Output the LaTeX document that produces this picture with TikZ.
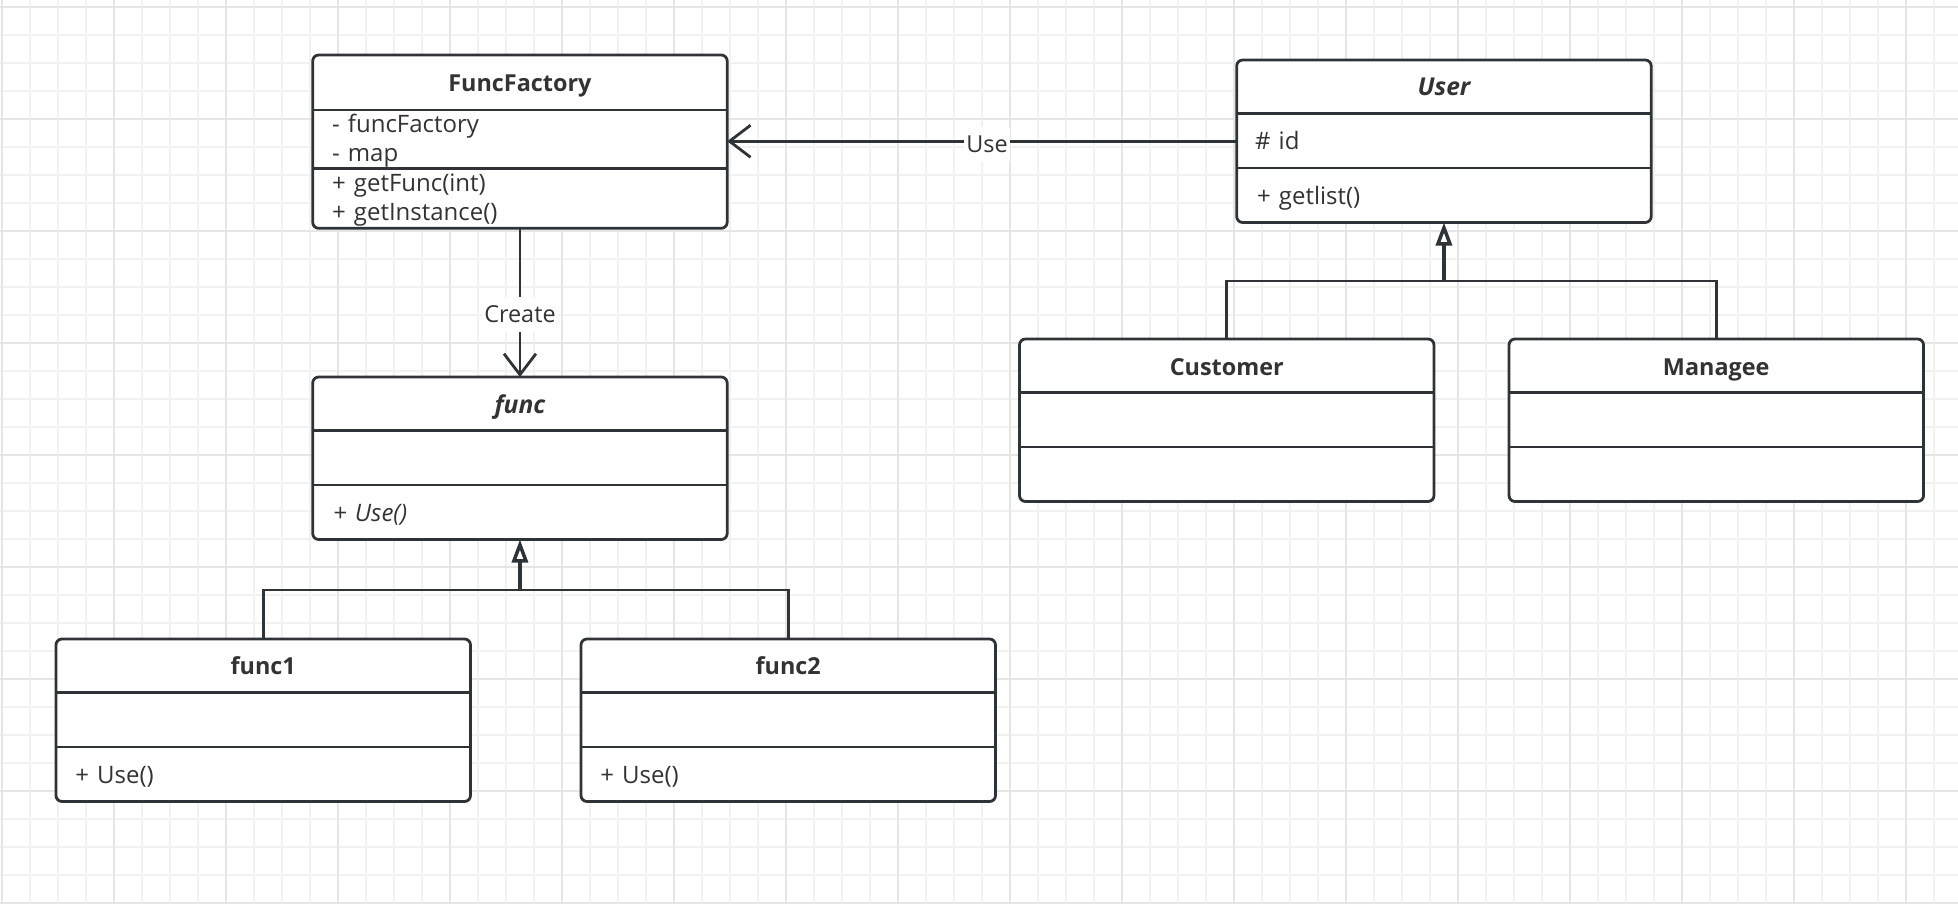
\documentclass[tikz,border=0pt]{standalone}
\usepackage{fontspec}
\setmainfont{Open Sans}[WordSpace=1.3]
\usetikzlibrary{arrows.meta,calc}

\definecolor{umlink}{HTML}{2E3338}
\definecolor{umltext}{HTML}{333333}
\definecolor{gridminor}{HTML}{F1F1F1}
\definecolor{gridmajor}{HTML}{E5E5E5}

% horizontal compartment line across a class box, <offset> px below its top
\newcommand\umldiv[2]{%
  \draw[divider] ($(#1.north west)+(0,#2)$) -- ($(#1.north east)+(0,#2)$);}

\begin{document}
\begin{tikzpicture}[x=0.5pt,y=-0.5pt,
  classbox/.style={draw=umlink, line width=1.4pt, rounded corners=3pt, fill=white,
    inner sep=0pt, outer sep=0pt, minimum width=207.25pt, minimum height=81.25pt,
    anchor=north west},
  divider/.style={draw=umlink, line width=1.4pt},
  umlfont/.style={font=\fontsize{12pt}{14pt}\selectfont},
  classname/.style={font=\fontsize{11.7pt}{14pt}\selectfont\bfseries,
    text=umltext, anchor=base, inner sep=0pt},
  abstractname/.style={classname,
    font=\fontsize{12.3pt}{14pt}\selectfont\bfseries\itshape},
  member/.style={umlfont, text=umltext, anchor=base west, inner sep=0pt},
  abstractmember/.style={member,
    font=\fontsize{12pt}{14pt}\selectfont\itshape},
  link/.style={draw=umlink, line width=1.4pt},
  stem/.style={draw=umlink, line width=1.75pt},
  edgelabel/.style={font=\fontsize{11.7pt}{14pt}\selectfont, text=umltext,
    fill=white, inner xsep=1.3pt, inner ysep=4.5pt, text height=8.3pt, text depth=0pt},
  usetip/.style={-{Straight Barb[length=10.5pt, width=16pt]}},
  inherittip/.style={-{Triangle[length=11.5pt, width=8pt, fill=white]}}
]
% canvas and background grid
\fill[white] (0,0) rectangle (1958,904);
\useasboundingbox (0,0) rectangle (1958,904);
\foreach \i in {0,...,69} {\draw[gridminor, line width=0.8pt] ({2+28*\i},0) -- ({2+28*\i},904);}
\foreach \j in {0,...,32} {\draw[gridminor, line width=0.8pt] (0,{7+28*\j}) -- (1958,{7+28*\j});}
\foreach \i in {0,...,17} {\draw[gridmajor, line width=1pt] ({2+112*\i},0) -- ({2+112*\i},904);}
\foreach \j in {0,...,8} {\draw[gridmajor, line width=1pt] (0,{7+112*\j}) -- (1958,{7+112*\j});}

% ---- FuncFactory ----
\node[classbox, minimum height=86.65pt] (ff) at (312.7,55) {};
\umldiv{ff}{55}
\umldiv{ff}{113.3}
\node[classname] (ffname) at ($(ff.north)+(0,36.7)$) {FuncFactory};
\node[member] (ffa1) at ($(ff.north west)+(19,77.7)$) {- funcFactory};
\node[member] (ffa2) at ($(ff.north west)+(19,106.7)$) {- map};
\node[member] (ffo1) at ($(ff.north west)+(19,136.7)$) {+ getFunc(int)};
\node[member] (ffo2) at ($(ff.north west)+(19,165)$) {+ getInstance()};

% ---- func (abstract) ----
\node[classbox] (func) at (312.7,377) {};
\umldiv{func}{53.5}
\umldiv{func}{108}
\node[abstractname] (funcname) at ($(func.north)+(0,36)$) {func};
\node[abstractmember] (funco1) at ($(func.north west)+(20,144.5)$) {+ Use()};

% ---- func1 ----
\node[classbox] (fone) at (56,639) {};
\umldiv{fone}{53.5}
\umldiv{fone}{108}
\node[classname] (fonename) at ($(fone.north)+(0,35.5)$) {func1};
\node[member] (foneo1) at ($(fone.north west)+(19,144)$) {+ Use()};

% ---- func2 ----
\node[classbox] (ftwo) at (581,639) {};
\umldiv{ftwo}{53.5}
\umldiv{ftwo}{108}
\node[classname] (ftwoname) at ($(ftwo.north)+(0,35.5)$) {func2};
\node[member] (ftwoo1) at ($(ftwo.north west)+(19,144)$) {+ Use()};

% ---- User (abstract) ----
\node[classbox] (user) at (1236.7,60) {};
\umldiv{user}{53.5}
\umldiv{user}{108}
\node[abstractname] (username) at ($(user.north)+(0,35.5)$) {User};
\node[member] (usera1) at ($(user.north west)+(18,89)$) {\# id};
\node[member] (usero1) at ($(user.north west)+(20,144.3)$) {+ getlist()};

% ---- Customer ----
\node[classbox] (cust) at (1019.5,339) {};
\umldiv{cust}{53.5}
\umldiv{cust}{108}
\node[classname] (custname) at ($(cust.north)+(0,36)$) {Customer};

% ---- Managee ----
\node[classbox] (mgr) at (1509,339) {};
\umldiv{mgr}{53.5}
\umldiv{mgr}{108}
\node[classname] (mgrname) at ($(mgr.north)+(0,36)$) {Managee};

% ---- associations ----
\draw[link, usetip] (user.west) -- node[edgelabel, pos=0.49, yshift=-1.5pt] (uselbl) {Use} (user.west -| ff.east);
\draw[link, usetip] (ff.south) -- node[edgelabel, pos=0.58] (createlbl) {Create} (func.north);

% ---- generalisations ----
\coordinate (funcjoin) at ($(func.south)+(0,50)$);
\draw[link] (fone.north) -- ++(0,-49) -| (ftwo.north);
\draw[stem, inherittip] (funcjoin) -- (func.south);

\coordinate (userjoin) at ($(user.south)+(0,59)$);
\draw[link] (cust.north) -- ++(0,-58) -| (mgr.north);
\draw[stem, inherittip] (userjoin) -- (user.south);
\end{tikzpicture}
\end{document}
